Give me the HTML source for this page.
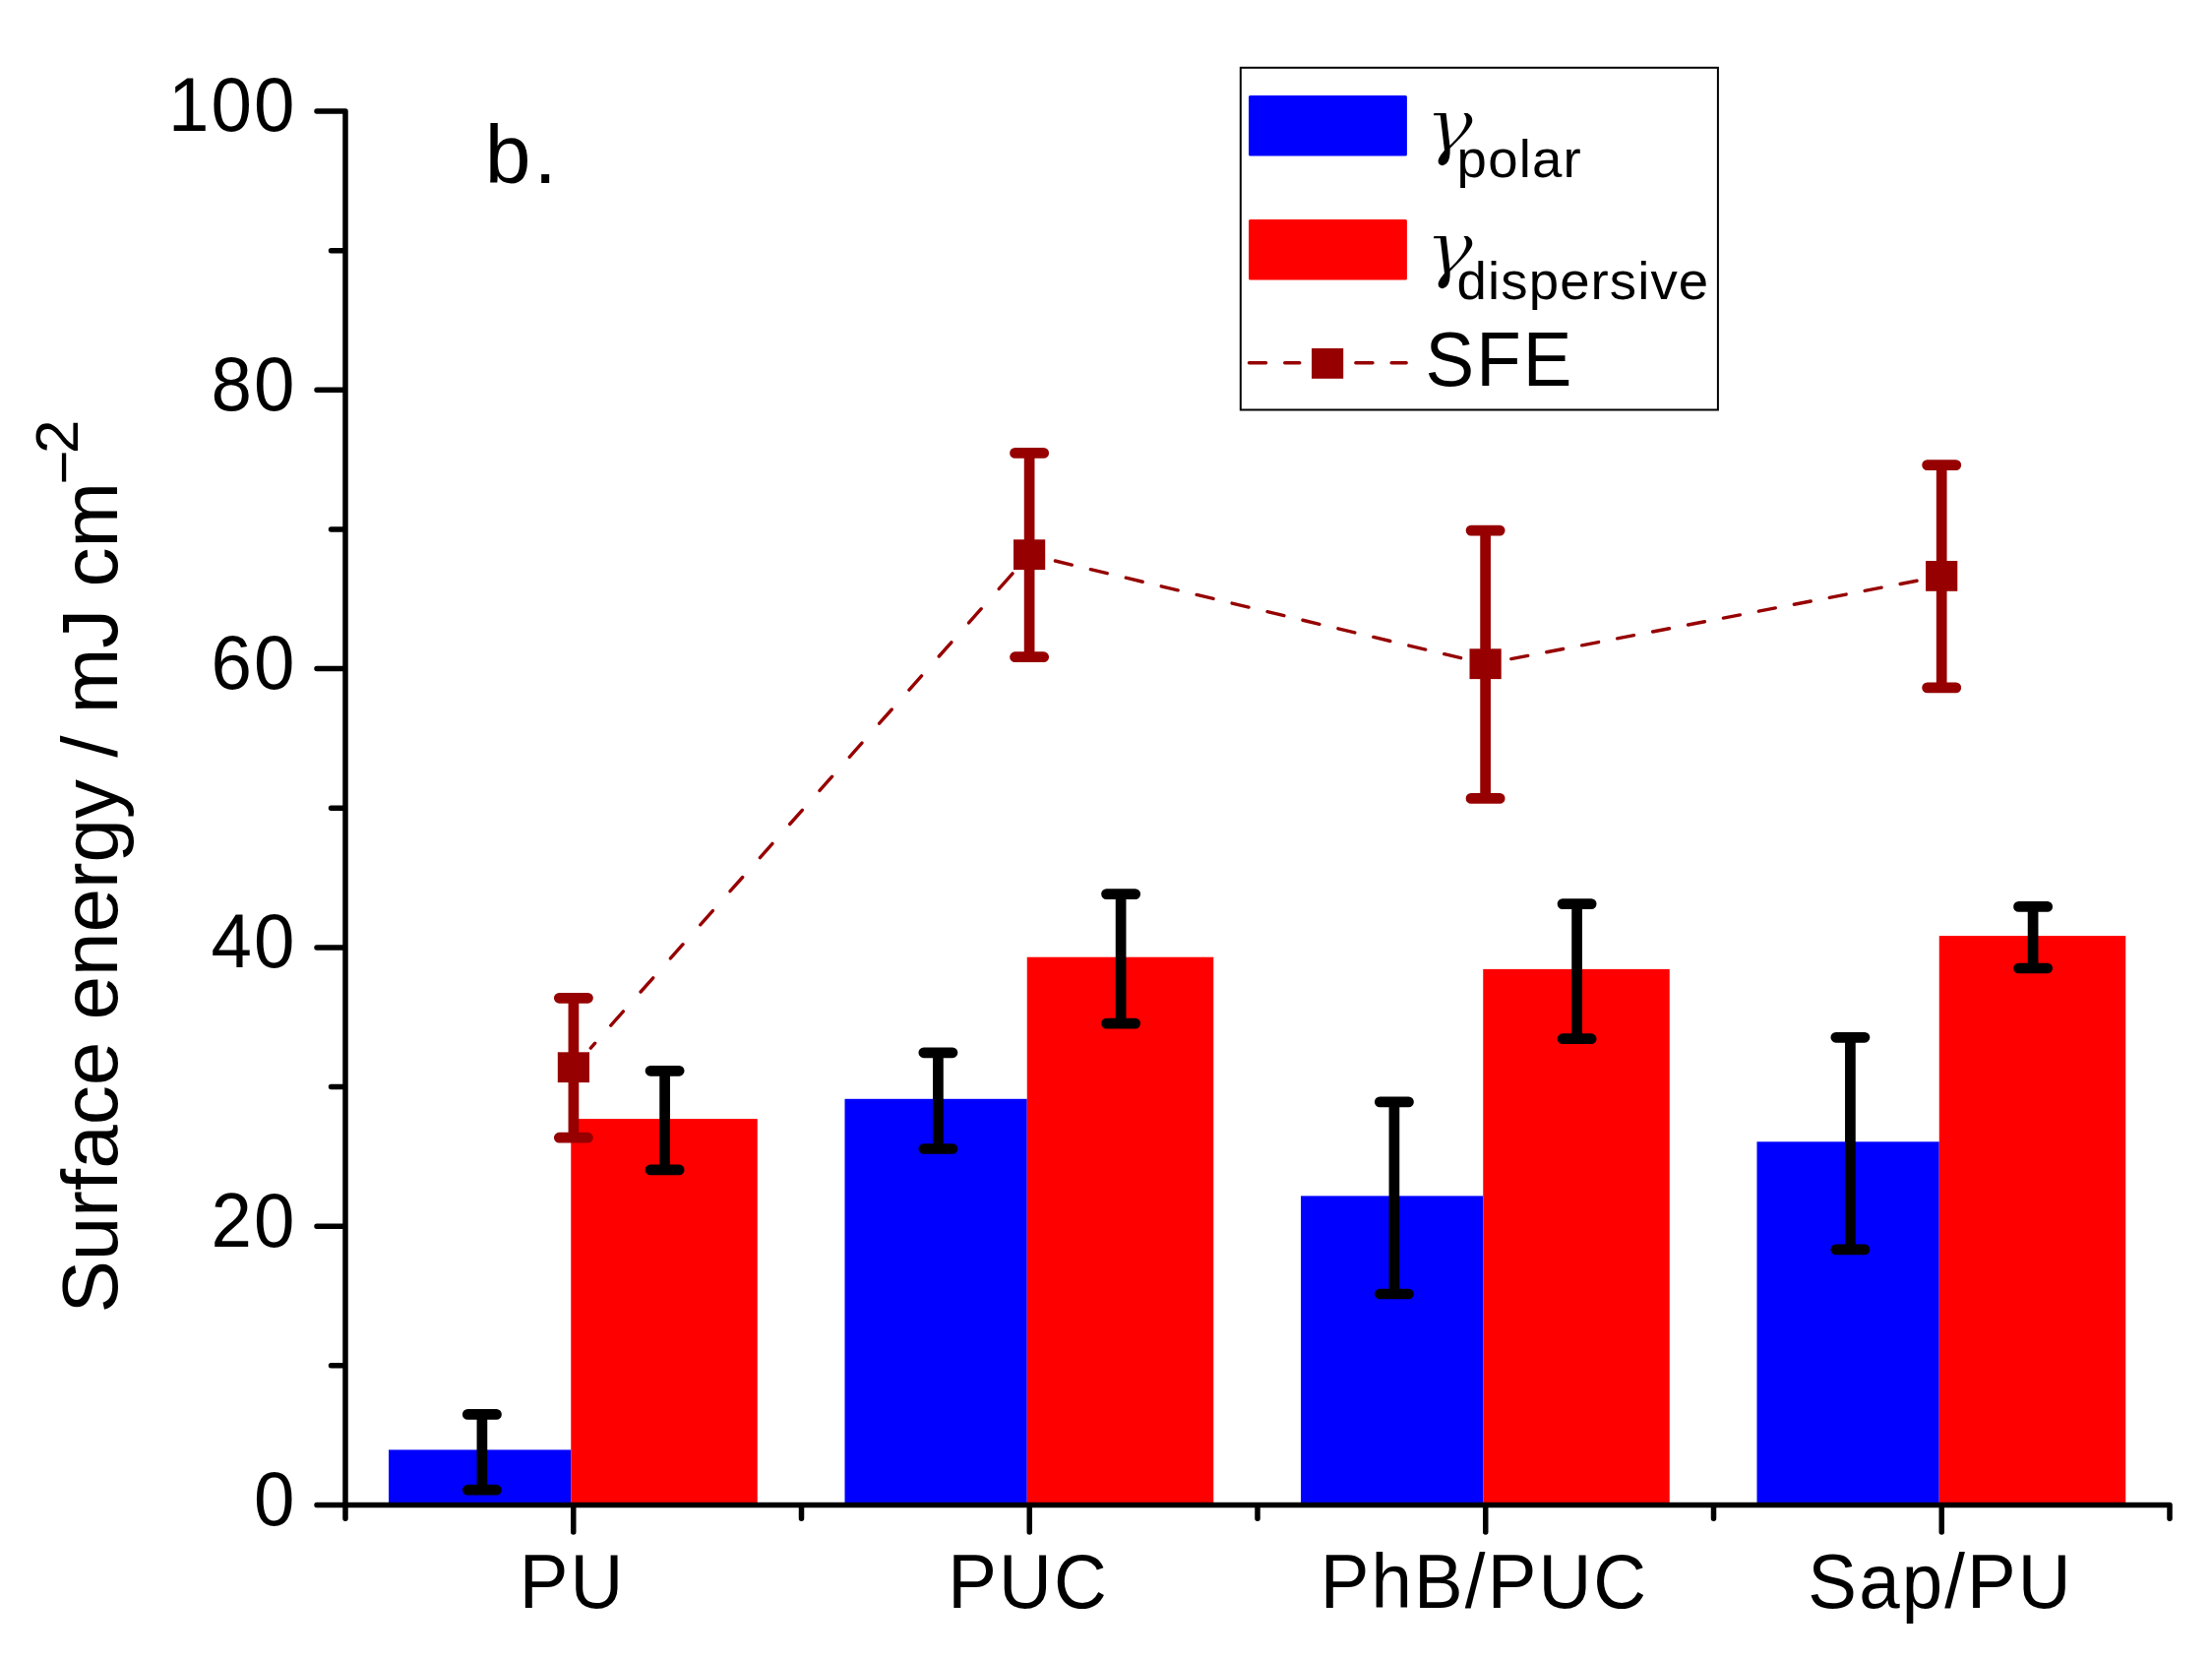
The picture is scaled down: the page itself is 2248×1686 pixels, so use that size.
<!DOCTYPE html>
<html lang="en"><head><meta charset="utf-8"><title>Surface energy chart</title>
<style>html,body{margin:0;padding:0;background:#fff}svg{display:block}</style></head>
<body><svg width="2248" height="1686" viewBox="0 0 2248 1686">
<rect width="2248" height="1686" fill="#fff"/>
<rect x="395.00" y="1473.40" width="185.25" height="56.10" fill="#0000ff"/>
<rect x="580.25" y="1137.10" width="189.50" height="392.40" fill="#ff0000"/>
<rect x="858.50" y="1116.80" width="185.25" height="412.70" fill="#0000ff"/>
<rect x="1043.75" y="972.70" width="189.50" height="556.80" fill="#ff0000"/>
<rect x="1322.00" y="1215.40" width="185.25" height="314.10" fill="#0000ff"/>
<rect x="1507.25" y="984.90" width="189.50" height="544.60" fill="#ff0000"/>
<rect x="1785.50" y="1160.30" width="185.25" height="369.20" fill="#0000ff"/>
<rect x="1970.75" y="951.10" width="189.50" height="578.40" fill="#ff0000"/>
<path d="M489.90 1437.40V1514.20M475.30 1437.40H504.50M475.30 1514.20H504.50" stroke="#000" stroke-width="10.7" stroke-linecap="round" fill="none"/>
<path d="M675.60 1088.30V1188.90M661.00 1088.30H690.20M661.00 1188.90H690.20" stroke="#000" stroke-width="10.7" stroke-linecap="round" fill="none"/>
<path d="M953.40 1069.80V1167.50M938.80 1069.80H968.00M938.80 1167.50H968.00" stroke="#000" stroke-width="10.7" stroke-linecap="round" fill="none"/>
<path d="M1139.10 908.60V1040.10M1124.50 908.60H1153.70M1124.50 1040.10H1153.70" stroke="#000" stroke-width="10.7" stroke-linecap="round" fill="none"/>
<path d="M1416.90 1119.90V1315.00M1402.30 1119.90H1431.50M1402.30 1315.00H1431.50" stroke="#000" stroke-width="10.7" stroke-linecap="round" fill="none"/>
<path d="M1602.60 918.60V1055.70M1588.00 918.60H1617.20M1588.00 1055.70H1617.20" stroke="#000" stroke-width="10.7" stroke-linecap="round" fill="none"/>
<path d="M1880.40 1054.30V1269.90M1865.80 1054.30H1895.00M1865.80 1269.90H1895.00" stroke="#000" stroke-width="10.7" stroke-linecap="round" fill="none"/>
<path d="M2066.10 921.40V984.00M2051.50 921.40H2080.70M2051.50 984.00H2080.70" stroke="#000" stroke-width="10.7" stroke-linecap="round" fill="none"/>
<path d="M1029.03 582.90L1015.25 598.40M997.20 618.70L984.58 632.90M966.88 652.80L954.26 667.00M936.57 686.90L923.94 701.10M906.25 721.00L893.63 735.20M875.93 755.10L863.31 769.30M845.62 789.20L832.99 803.40M815.30 823.30L802.68 837.50M784.98 857.40L772.36 871.60M754.67 891.50L742.04 905.70M724.35 925.60L711.72 939.80M694.03 959.70L681.41 973.90M663.72 993.80L651.09 1008.00M633.40 1027.90L620.77 1042.10M604.68 1060.20L600.33 1065.10M1072.40 570.00L1089.30 574.05M1108.34 578.61L1125.24 582.65M1144.28 587.21L1161.18 591.26M1180.22 595.82L1197.12 599.87M1216.16 604.43L1233.06 608.47M1252.10 613.03L1269.00 617.08M1288.04 621.64L1304.94 625.69M1323.98 630.25L1340.88 634.29M1359.92 638.85L1376.82 642.90M1395.86 647.46L1412.76 651.51M1431.80 656.07L1448.70 660.12M1467.74 664.68L1484.64 668.72M1535.80 669.65L1552.70 666.40M1571.74 662.73L1588.64 659.48M1607.68 655.81L1624.58 652.55M1643.62 648.88L1660.52 645.63M1679.56 641.96L1696.46 638.71M1715.50 635.04L1732.40 631.78M1751.44 628.12L1768.34 624.86M1787.38 621.19L1804.28 617.94M1823.32 614.27L1840.22 611.01M1859.26 607.35L1876.16 604.09M1895.20 600.42L1912.10 597.17M1931.14 593.50L1948.04 590.25" stroke="#960000" stroke-width="3.4" stroke-linecap="round" fill="none"/>
<path d="M582.90 1014.30V1156.20M568.30 1014.30H597.50M568.30 1156.20H597.50" stroke="#960000" stroke-width="10.7" stroke-linecap="round" fill="none"/>
<rect x="566.80" y="1069.30" width="32.2" height="30.8" fill="#960000"/>
<path d="M1046.10 460.40V667.70M1031.50 460.40H1060.70M1031.50 667.70H1060.70" stroke="#960000" stroke-width="10.7" stroke-linecap="round" fill="none"/>
<rect x="1030.00" y="548.30" width="32.2" height="30.8" fill="#960000"/>
<path d="M1509.60 539.10V811.40M1495.00 539.10H1524.20M1495.00 811.40H1524.20" stroke="#960000" stroke-width="10.7" stroke-linecap="round" fill="none"/>
<rect x="1493.50" y="659.30" width="32.2" height="30.8" fill="#960000"/>
<path d="M1973.20 472.60V698.90M1958.60 472.60H1987.80M1958.60 698.90H1987.80" stroke="#960000" stroke-width="10.7" stroke-linecap="round" fill="none"/>
<rect x="1957.10" y="570.00" width="32.2" height="30.8" fill="#960000"/>
<path d="M351.0 113.0V1529.5M322.0 1529.5H2205.0M336.5 1387.85H351.0M322.0 1246.20H351.0M336.5 1104.55H351.0M322.0 962.90H351.0M336.5 821.25H351.0M322.0 679.60H351.0M336.5 537.95H351.0M322.0 396.30H351.0M336.5 254.65H351.0M322.0 113.00H351.0M582.75 1529.5V1557.0M1046.25 1529.5V1557.0M1509.75 1529.5V1557.0M1973.25 1529.5V1557.0M351.00 1529.5V1543.2M814.50 1529.5V1543.2M1278.00 1529.5V1543.2M1741.50 1529.5V1543.2M2205.00 1529.5V1543.2" stroke="#000" stroke-width="5.5" stroke-linecap="round" fill="none"/>
<text transform="translate(301.60 1549.90) scale(0.961 1)" font-family="'Liberation Sans', Arial, Helvetica, sans-serif" font-size="77.5" text-anchor="end" letter-spacing="2.19" >0</text>
<text transform="translate(301.60 1266.60) scale(0.961 1)" font-family="'Liberation Sans', Arial, Helvetica, sans-serif" font-size="77.5" text-anchor="end" letter-spacing="2.19" >20</text>
<text transform="translate(301.60 983.30) scale(0.961 1)" font-family="'Liberation Sans', Arial, Helvetica, sans-serif" font-size="77.5" text-anchor="end" letter-spacing="2.19" >40</text>
<text transform="translate(301.60 700.00) scale(0.961 1)" font-family="'Liberation Sans', Arial, Helvetica, sans-serif" font-size="77.5" text-anchor="end" letter-spacing="2.19" >60</text>
<text transform="translate(301.60 416.70) scale(0.961 1)" font-family="'Liberation Sans', Arial, Helvetica, sans-serif" font-size="77.5" text-anchor="end" letter-spacing="2.19" >80</text>
<text transform="translate(301.60 133.40) scale(0.961 1)" font-family="'Liberation Sans', Arial, Helvetica, sans-serif" font-size="77.5" text-anchor="end" letter-spacing="2.19" >100</text>
<text transform="translate(581.50 1633.80) scale(0.961 1)" font-family="'Liberation Sans', Arial, Helvetica, sans-serif" font-size="77.5" text-anchor="middle" letter-spacing="2.19" >PU</text>
<text transform="translate(1045.00 1633.80) scale(0.961 1)" font-family="'Liberation Sans', Arial, Helvetica, sans-serif" font-size="77.5" text-anchor="middle" letter-spacing="2.19" >PUC</text>
<text transform="translate(1508.50 1633.80) scale(0.961 1)" font-family="'Liberation Sans', Arial, Helvetica, sans-serif" font-size="77.5" text-anchor="middle" letter-spacing="2.19" >PhB/PUC</text>
<text transform="translate(1972.00 1633.80) scale(0.961 1)" font-family="'Liberation Sans', Arial, Helvetica, sans-serif" font-size="77.5" text-anchor="middle" letter-spacing="2.19" >Sap/PU</text>
<text transform="translate(492.80 185.70) scale(1.0 1)" font-family="'Liberation Sans', Arial, Helvetica, sans-serif" font-size="84" text-anchor="start" letter-spacing="3.00" >b.</text>
<text transform="translate(118.8 1334.5) rotate(-90)" font-family="'Liberation Sans', Arial, Helvetica, sans-serif" font-size="80">Surface energy / mJ cm<tspan font-size="60" dy="-34.3" dx="-2.7">−</tspan><tspan font-size="62" dy="-5.7" dx="-3.6">2</tspan></text>
<rect x="1260.8" y="68.8" width="485.1" height="347.7" fill="#fff" stroke="#000" stroke-width="2"/>
<rect x="1269" y="97.1" width="160.9" height="61.3" rx="1.5" fill="#0000ff"/>
<rect x="1269" y="223.1" width="160.9" height="61.5" rx="1.5" fill="#ff0000"/>
<path d="M1269.5 368.8H1286.5M1305.8 368.8H1320.7M1377.9 368.8H1394.9M1414.2 368.8H1429.1" stroke="#960000" stroke-width="3.6" stroke-linecap="round"/>
<rect x="1333" y="354" width="32.2" height="30.8" fill="#960000"/>
<text transform="translate(1447.70 152.50) scale(1.098 1)" font-family="'DejaVu Serif', 'Liberation Serif', serif" font-size="75.6" text-anchor="start" font-style="italic" stroke="#fff" stroke-width="1.6">γ</text>
<text transform="translate(1480.60 179.60) scale(1.015 1)" font-family="'Liberation Sans', Arial, Helvetica, sans-serif" font-size="53.8" text-anchor="start" letter-spacing="1.18" >polar</text>
<text transform="translate(1447.70 278.30) scale(1.098 1)" font-family="'DejaVu Serif', 'Liberation Serif', serif" font-size="75.6" text-anchor="start" font-style="italic" stroke="#fff" stroke-width="1.6">γ</text>
<text transform="translate(1480.60 303.70) scale(1.015 1)" font-family="'Liberation Sans', Arial, Helvetica, sans-serif" font-size="53.8" text-anchor="start" letter-spacing="1.08" >dispersive</text>
<text transform="translate(1448.50 391.80) scale(0.961 1)" font-family="'Liberation Sans', Arial, Helvetica, sans-serif" font-size="77.5" text-anchor="start" letter-spacing="2.19" >SFE</text>
</svg></body></html>
